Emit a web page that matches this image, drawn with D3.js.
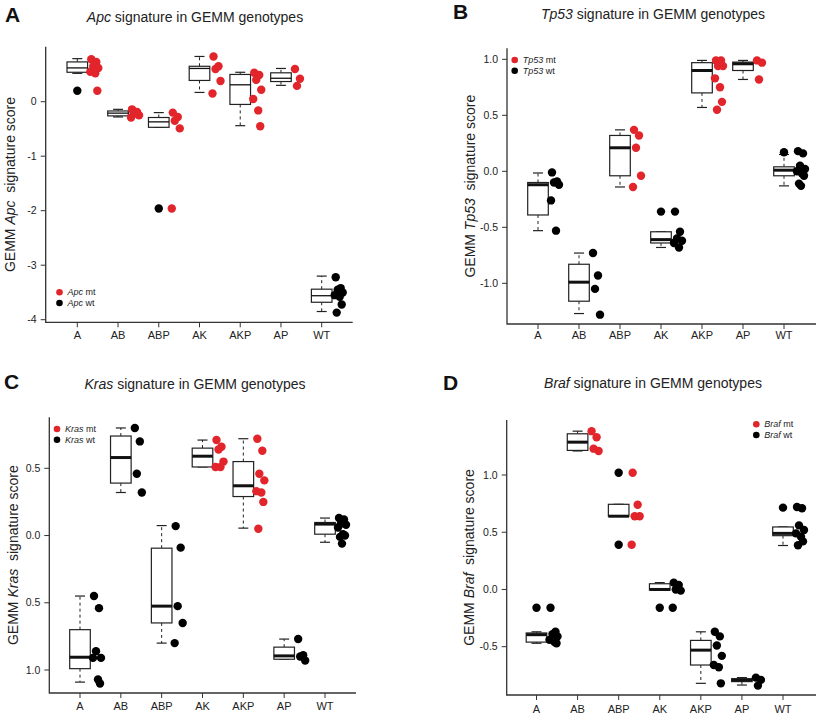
<!DOCTYPE html>
<html>
<head>
<meta charset="utf-8">
<script src="https://cdn.jsdelivr.net/npm/d3@7"></script>
<style>
  html, body { margin: 0; padding: 0; background: #fff; }
  svg { display: block; font-family: "Liberation Sans", Arial, Helvetica, sans-serif; }
</style>
</head>
<body>
<svg id="chart" width="816" height="717"></svg>
<script>
// ---------------- DATA ----------------
const categories = ["A", "AB", "ABP", "AK", "AKP", "AP", "WT"];

// Apc panel: box stats [lowWhisker, q1, median, q3, highWhisker]
const apcBoxes = [
  [0.52, 0.54, 0.62, 0.73, 0.79],
  [-0.28, -0.26, -0.21, -0.17, -0.14],
  [-0.47, -0.47, -0.37, -0.29, -0.20],
  [0.17, 0.39, 0.61, 0.65, 0.83],
  [-0.44, -0.05, 0.31, 0.50, 0.54],
  [0.30, 0.37, 0.43, 0.53, 0.61],
  [-3.85, -3.68, -3.56, -3.44, -3.20]
];
const apcOutliers = [[0.20], [], [-1.96], [], [], [], []];
const apcPoints = [
  [0.78, 0.73, 0.65, 0.62, 0.55, 0.52, 0.20],
  [-0.14, -0.19, -0.22, -0.25, -0.29],
  [-0.20, -0.28, -0.35, -0.49, -1.96],
  [0.83, 0.65, 0.60, 0.38, 0.15],
  [0.53, 0.49, 0.40, 0.22, 0.05, -0.16, -0.45],
  [0.60, 0.42, 0.29],
  [-3.22, -3.42, -3.45, -3.50, -3.55, -3.58, -3.72, -3.87]
];
const apcMutant = ["A", "AB", "ABP", "AK", "AKP", "AP"];
const apcTicks = [0, -1, -2, -3, -4];
const apcTickLabels = ["0", "-1", "-2", "-3", "-4"];

// Tp53 panel
const tp53Boxes = [
  [-0.53, -0.39, -0.12, -0.10, -0.015],
  [-1.27, -1.16, -0.99, -0.83, -0.73],
  [-0.14, -0.04, 0.21, 0.32, 0.37],
  [-0.68, -0.64, -0.61, -0.54, -0.54],
  [0.57, 0.70, 0.90, 0.97, 0.99],
  [0.82, 0.90, 0.96, 0.975, 0.99],
  [-0.13, -0.04, 0.01, 0.04, 0.15]
];
const tp53Outliers = [[], [], [], [-0.36], [], [], [0.17]];
const tp53Points = [
  [-0.01, -0.09, -0.10, -0.12, -0.26, -0.53],
  [-0.73, -0.93, -1.05, -1.28],
  [0.37, 0.32, 0.21, -0.04, -0.14],
  [-0.36, -0.54, -0.60, -0.62, -0.64, -0.68],
  [0.99, 0.99, 0.94, 0.94, 0.83, 0.75, 0.62, 0.55],
  [0.99, 0.97, 0.82],
  [0.18, 0.16, 0.05, 0.02, 0.0, -0.02, -0.04, -0.11, -0.13]
];
const tp53Mutant = ["ABP", "AKP", "AP"];
const tp53Ticks = [1.0, 0.5, 0.0, -0.5, -1.0];
const tp53TickLabels = ["1.0", "0.5", "0.0", "-0.5", "-1.0"];

// Kras panel
const krasBoxes = [
  [-1.09, -0.99, -0.905, -0.70, -0.45],
  [0.32, 0.39, 0.58, 0.74, 0.80],
  [-0.80, -0.65, -0.525, -0.094, 0.074],
  [0.51, 0.51, 0.59, 0.65, 0.71],
  [0.055, 0.29, 0.37, 0.55, 0.72],
  [-0.92, -0.92, -0.895, -0.83, -0.77],
  [-0.05, 0.01, 0.085, 0.097, 0.13]
];
const krasOutliers = [[], [], [], [], [], [], []];
const krasPoints = [
  [-0.45, -0.54, -0.86, -0.91, -0.91, -1.07, -1.10],
  [0.80, 0.70, 0.46, 0.32],
  [0.07, -0.09, -0.525, -0.65, -0.80],
  [0.71, 0.66, 0.64, 0.55, 0.51, 0.51],
  [0.72, 0.63, 0.46, 0.41, 0.33, 0.32, 0.25, 0.05],
  [-0.77, -0.89, -0.90, -0.93],
  [0.13, 0.12, 0.09, 0.08, 0.06, 0.01, 0.0, -0.01, -0.06]
];
const krasMutant = ["AK", "AKP"];
const krasTicks = [0.5, 0.0, -0.5, -1.0];
const krasTickLabels = ["0.5", "0.0", "0.5", "1.0"];

// Braf panel
const brafBoxes = [
  [-0.47, -0.46, -0.395, -0.38, -0.37],
  [1.21, 1.215, 1.287, 1.36, 1.383],
  [0.64, 0.64, 0.64, 0.744, 0.744],
  [-0.005, -0.005, 0.0, 0.05, 0.06],
  [-0.82, -0.66, -0.53, -0.445, -0.37],
  [-0.835, -0.805, -0.79, -0.78, -0.77],
  [0.384, 0.47, 0.49, 0.546, 0.546]
];
const brafOutliers = [[-0.16], [], [1.02, 0.39], [-0.16], [], [], [0.715]];
const brafPoints = [
  [-0.16, -0.37, -0.39, -0.41, -0.44, -0.46, -0.47],
  [1.383, 1.33, 1.23, 1.21],
  [1.02, 0.74, 0.64, 0.64, 0.39],
  [0.06, 0.04, 0.0, -0.01, -0.16],
  [-0.37, -0.41, -0.49, -0.58, -0.66, -0.68, -0.82],
  [-0.77, -0.79, -0.84],
  [0.72, 0.71, 0.56, 0.52, 0.49, 0.46, 0.42, 0.386]
];
const brafMutant = ["AB", "ABP"];
const brafTicks = [1.0, 0.5, 0.0, -0.5];
const brafTickLabels = ["1.0", "0.5", "0.0", "-0.5"];

// ---------------- DRAWING ----------------
const RED = "#e2242b";
const BLACK = "#000";
const svg = d3.select("#chart");
const jitter = [-3, 2, -1, 4, -4, 1, 3, -2, 0];

function drawPanel(cfg) {
  const g = svg.append("g");
  const x = d3.scalePoint().domain(categories).range([cfg.xFirst, cfg.xLast]);
  const y = d3.scaleLinear().domain(cfg.yDomain).range(cfg.yRange);
  const boxW = 20.6, capW = 10;

  // panel letter
  g.append("text").attr("x", cfg.letterX).attr("y", cfg.letterY)
    .attr("font-size", 21).attr("font-weight", "bold").attr("fill", "#111").text(cfg.letter);

  // title
  const t = g.append("text").attr("x", cfg.titleX).attr("y", cfg.titleY)
    .attr("text-anchor", "middle").attr("font-size", 14).attr("fill", "#222");
  t.append("tspan").attr("font-style", "italic").text(cfg.gene);
  t.append("tspan").text(" signature in GEMM genotypes");

  // y label
  const yl = g.append("text")
    .attr("transform", `translate(${cfg.ylabX},${(cfg.top + cfg.bottom) / 2}) rotate(-90)`)
    .attr("text-anchor", "middle").attr("font-size", 14).attr("fill", "#222");
  yl.append("tspan").text("GEMM ");
  yl.append("tspan").attr("font-style", "italic").text(cfg.gene);
  yl.append("tspan").text("\u00a0 signature score");

  // axes lines (L shape)
  g.append("path")
    .attr("d", `M${cfg.left},${cfg.top}V${cfg.bottom}H${cfg.right}`)
    .attr("fill", "none").attr("stroke", "#333").attr("stroke-width", 1.3);

  // y ticks
  cfg.ticks.forEach((v, i) => {
    g.append("line").attr("x1", cfg.left - 5).attr("x2", cfg.left)
      .attr("y1", y(v)).attr("y2", y(v)).attr("stroke", "#333").attr("stroke-width", 1);
    g.append("text").attr("x", cfg.left - 9).attr("y", y(v)).attr("dy", "0.35em")
      .attr("text-anchor", "end").attr("font-size", 10.5).attr("fill", "#222")
      .text(cfg.tickLabels[i]);
  });

  // x ticks
  categories.forEach(c => {
    g.append("line").attr("x1", x(c)).attr("x2", x(c))
      .attr("y1", cfg.bottom).attr("y2", cfg.bottom + 5)
      .attr("stroke", "#333").attr("stroke-width", 1);
    g.append("text").attr("x", x(c)).attr("y", cfg.bottom + cfg.xLabOff)
      .attr("text-anchor", "middle").attr("font-size", 11).attr("fill", "#222").text(c);
  });

  // boxes
  categories.forEach((c, i) => {
    const [lo, q1, med, q3, hi] = cfg.boxes[i];
    const cx = x(c);
    const bg = g.append("g");
    // whiskers dashed
    bg.append("line").attr("x1", cx).attr("x2", cx).attr("y1", y(q3)).attr("y2", y(hi))
      .attr("stroke", "#222").attr("stroke-dasharray", "3,3");
    bg.append("line").attr("x1", cx).attr("x2", cx).attr("y1", y(q1)).attr("y2", y(lo))
      .attr("stroke", "#222").attr("stroke-dasharray", "3,3");
    // staples
    [lo, hi].forEach(v => bg.append("line")
      .attr("x1", cx - capW / 2).attr("x2", cx + capW / 2).attr("y1", y(v)).attr("y2", y(v))
      .attr("stroke", "#222").attr("stroke-width", 1.2));
    // box
    bg.append("rect").attr("x", cx - boxW / 2).attr("y", y(q3))
      .attr("width", boxW).attr("height", Math.max(0.5, y(q1) - y(q3)))
      .attr("fill", "#fff").attr("stroke", "#222").attr("stroke-width", 1.2);
    // median
    bg.append("line").attr("x1", cx - boxW / 2).attr("x2", cx + boxW / 2)
      .attr("y1", y(med)).attr("y2", y(med))
      .attr("stroke", "#111").attr("stroke-width", cfg.medW);
    // outliers
    cfg.outliers[i].forEach(v => bg.append("circle")
      .attr("cx", cx).attr("cy", y(v)).attr("r", 4.2).attr("fill", BLACK));
  });

  // points
  categories.forEach((c, i) => {
    const col = cfg.mutant.includes(c) ? RED : BLACK;
    cfg.points[i].forEach((v, j) => {
      g.append("circle").attr("cx", x(c) + 17 + jitter[j % jitter.length])
        .attr("cy", y(v)).attr("r", 4.2).attr("fill", col);
    });
  });

  // legend
  [["mt", RED], ["wt", BLACK]].forEach(([lab, col], k) => {
    const ly = cfg.legY + k * 10.7;
    g.append("circle").attr("cx", cfg.legX).attr("cy", ly).attr("r", 3.3).attr("fill", col);
    const lt = g.append("text").attr("x", cfg.legX + 8).attr("y", ly).attr("dy", "0.35em")
      .attr("font-size", 9).attr("fill", "#222");
    lt.append("tspan").attr("font-style", "italic").text(cfg.gene);
    lt.append("tspan").text(" " + lab);
  });
}

drawPanel({
  letter: "A", letterX: 5, letterY: 22, gene: "Apc", titleX: 195, titleY: 22,
  ylabX: 15, left: 45.7, right: 352.7, top: 46.7, bottom: 322.3,
  xFirst: 77.3, xLast: 321.7, yDomain: [-4, 0], yRange: [319.7, 101.7], xLabOff: 17,
  boxes: apcBoxes, outliers: apcOutliers, points: apcPoints, mutant: apcMutant,
  ticks: apcTicks, tickLabels: apcTickLabels, medW: 1.3, legX: 59.5, legY: 292.3
});
drawPanel({
  letter: "B", letterX: 453, letterY: 19, gene: "Tp53", titleX: 653, titleY: 18.5,
  ylabX: 474.5, left: 507, right: 816, top: 48.3, bottom: 324,
  xFirst: 538, xLast: 784, yDomain: [-1, 1], yRange: [283.3, 59.3], xLabOff: 15,
  boxes: tp53Boxes, outliers: tp53Outliers, points: tp53Points, mutant: tp53Mutant,
  ticks: tp53Ticks, tickLabels: tp53TickLabels, medW: 3, legX: 514.7, legY: 60
});
drawPanel({
  letter: "C", letterX: 4, letterY: 388.5, gene: "Kras", titleX: 195, titleY: 389,
  ylabX: 18, left: 49.3, right: 356, top: 417.3, bottom: 693,
  xFirst: 80, xLast: 325, yDomain: [-1, 0.5], yRange: [670, 468.3], xLabOff: 17,
  boxes: krasBoxes, outliers: krasOutliers, points: krasPoints, mutant: krasMutant,
  ticks: krasTicks, tickLabels: krasTickLabels, medW: 3, legX: 57, legY: 429
});
drawPanel({
  letter: "D", letterX: 443, letterY: 390, gene: "Braf", titleX: 653, titleY: 387.5,
  ylabX: 474, left: 506.7, right: 816, top: 420, bottom: 695,
  xFirst: 536.5, xLast: 783, yDomain: [-0.5, 1.0], yRange: [646.7, 475], xLabOff: 18,
  boxes: brafBoxes, outliers: brafOutliers, points: brafPoints, mutant: brafMutant,
  ticks: brafTicks, tickLabels: brafTickLabels, medW: 3, legX: 756.3, legY: 424.3
});
</script>
</body>
</html>
